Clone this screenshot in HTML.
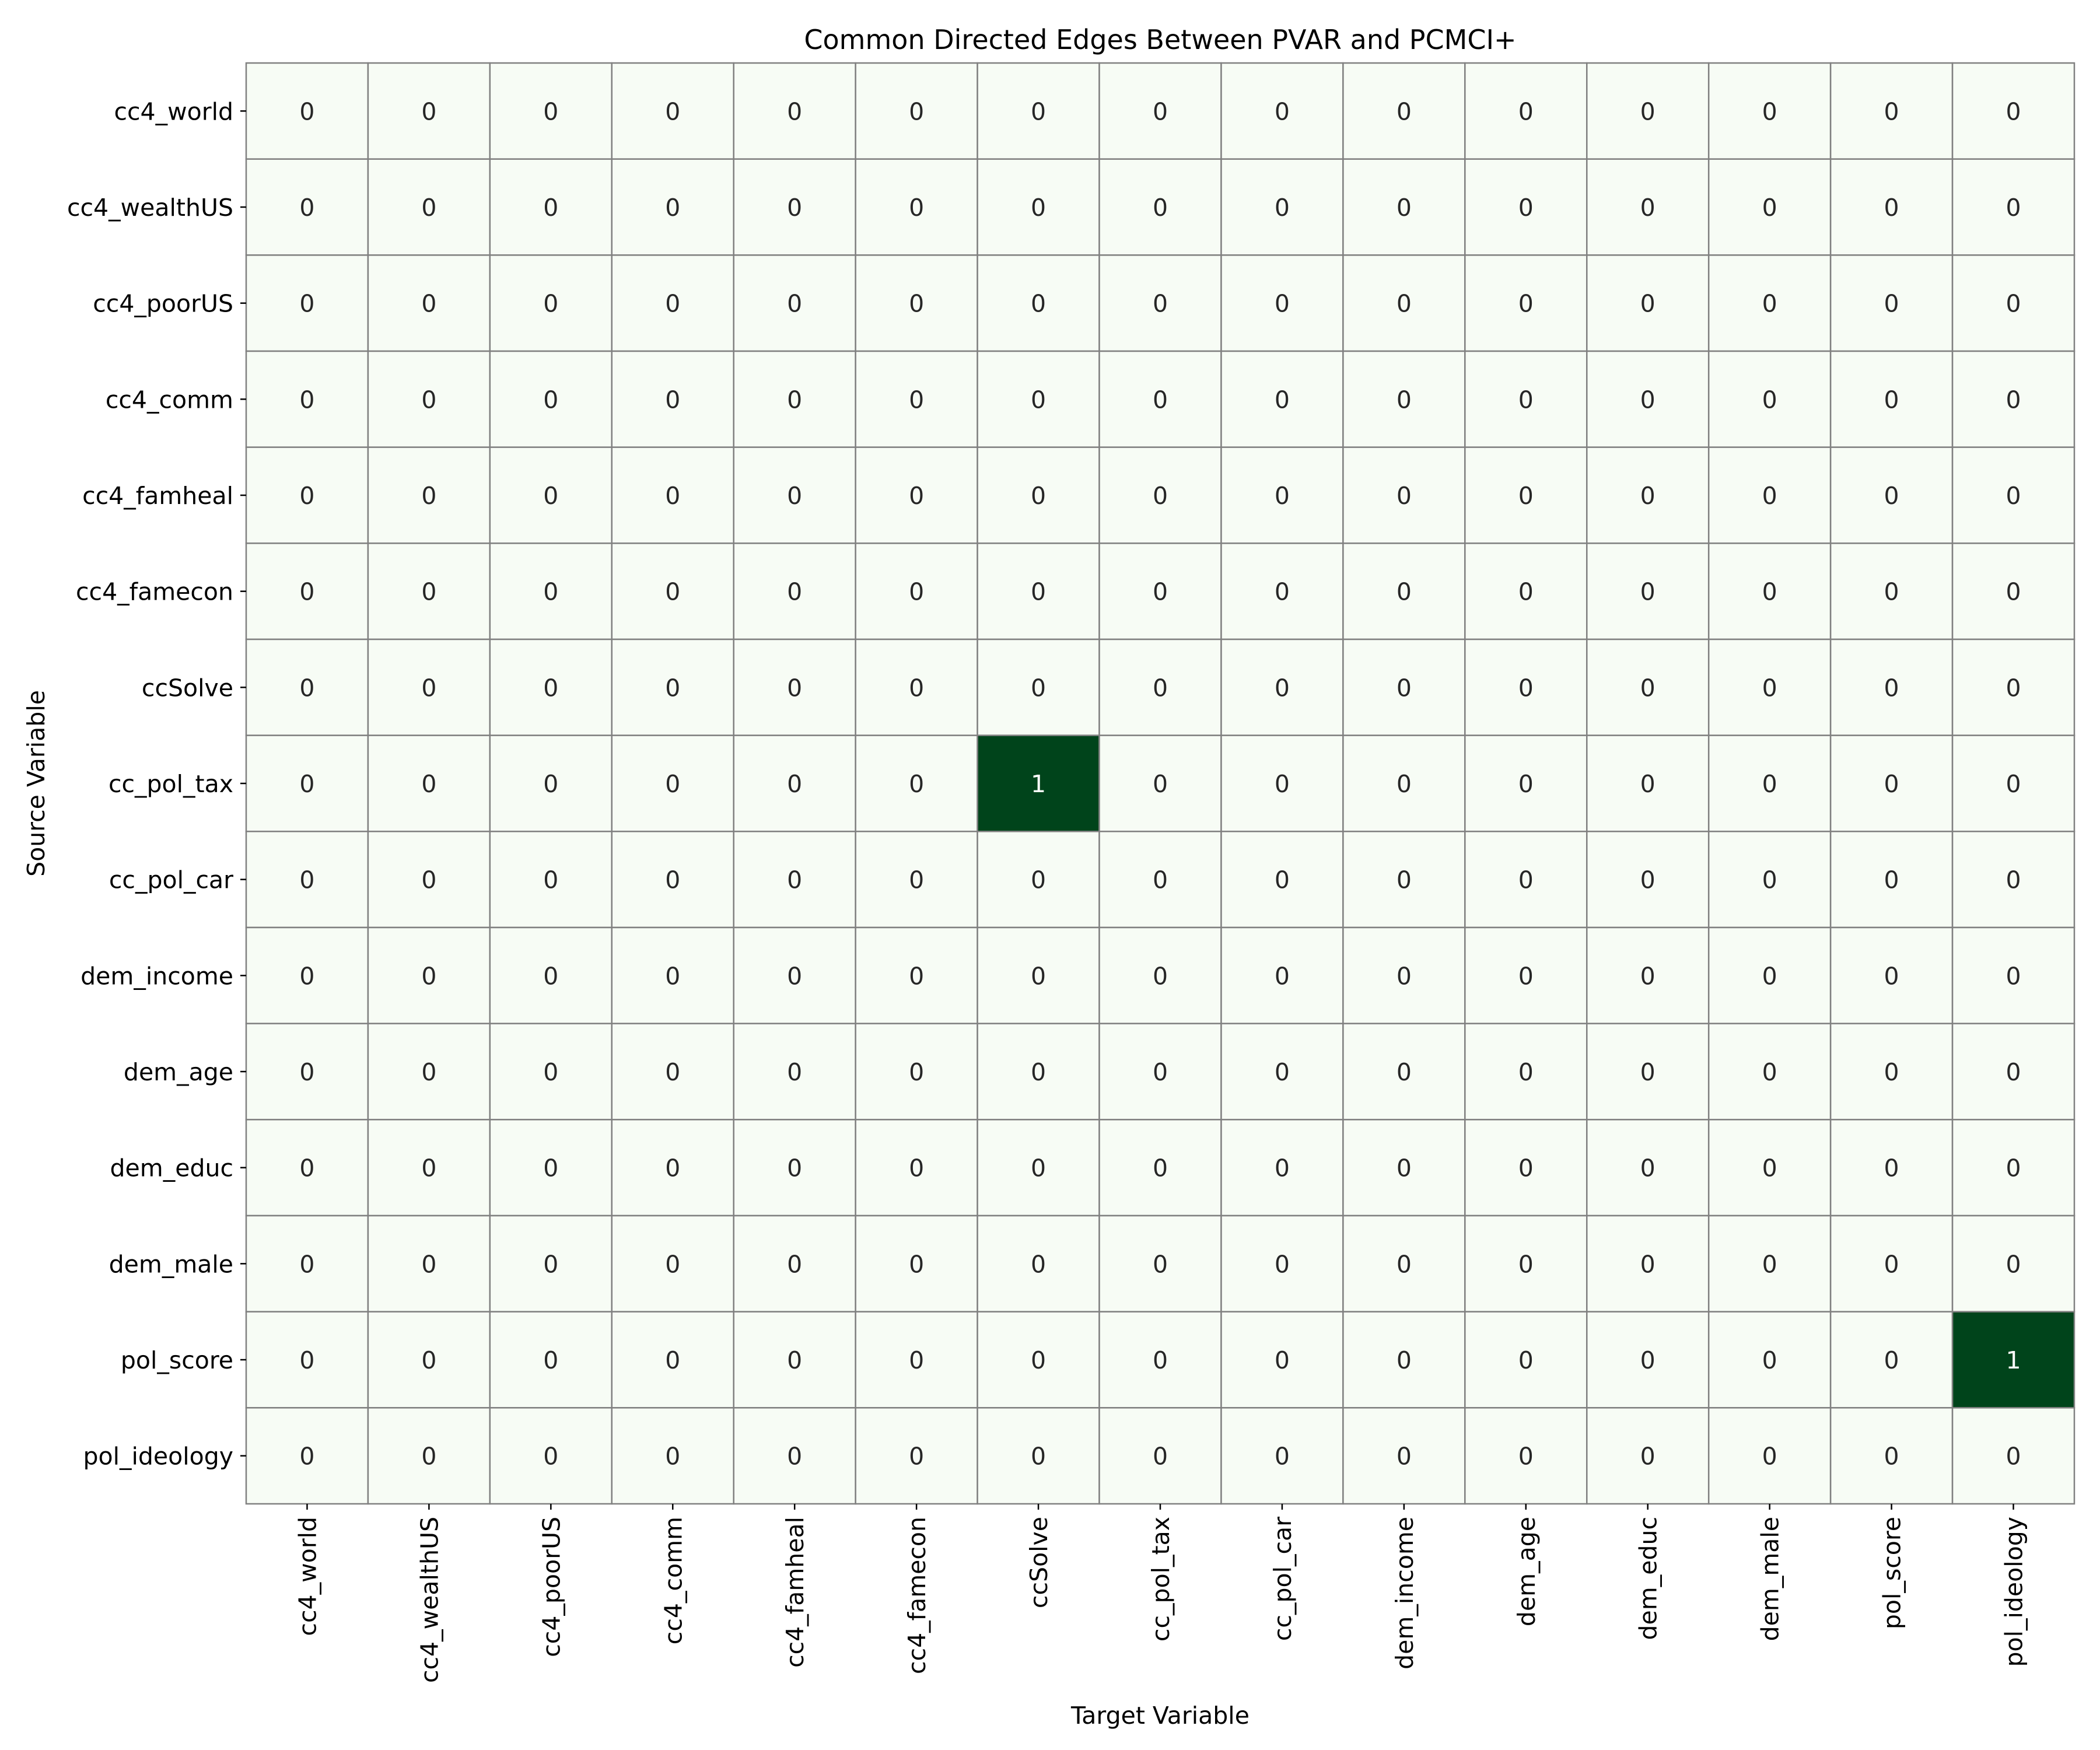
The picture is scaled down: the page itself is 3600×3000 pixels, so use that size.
<!DOCTYPE html>
<html><head><meta charset="utf-8">
<style>
html,body{margin:0;padding:0;background:#fff;}
svg{display:block;font-family:"DejaVu Sans","Liberation Sans",sans-serif;}
</style></head>
<body>
<svg id="chart" width="3600" height="3000" viewBox="0 0 3600 3000" xmlns="http://www.w3.org/2000/svg">
<rect width="3600" height="3000" fill="#fff"/>
<text x="1989" y="84" font-size="46" text-anchor="middle" fill="#000">Common Directed Edges Between PVAR and PCMCI+</text>
<text x="1989" y="2955" font-size="41" text-anchor="middle" fill="#000">Target Variable</text>
<text x="0" y="0" font-size="41" text-anchor="middle" fill="#000" transform="translate(76,1343) rotate(-90)">Source Variable</text>
<g id="cells"></g>
<g id="ticks"></g>
</svg>
<script>
const rowLabels = ["cc4_world","cc4_wealthUS","cc4_poorUS","cc4_comm","cc4_famheal","cc4_famecon","ccSolve","cc_pol_tax","cc_pol_car","dem_income","dem_age","dem_educ","dem_male","pol_score","pol_ideology"];
const colLabels = ["cc4_world","cc4_wealthUS","cc4_poorUS","cc4_comm","cc4_famheal","cc4_famecon","ccSolve","cc_pol_tax","cc_pol_car","dem_income","dem_age","dem_educ","dem_male","pol_score","pol_ideology"];
const edgeSources = ["cc_pol_tax","pol_score"];
const edgeTargets = ["ccSolve","pol_ideology"];
const edgeValues = [1,1];

const NS="http://www.w3.org/2000/svg";
const L=422,R=3556,T=108,B=2578;
const cw=(R-L)/colLabels.length, ch=(B-T)/rowLabels.length;
function xPos(i){return L+i*cw;}
function yPos(i){return T+i*ch;}
const matrix=rowLabels.map(()=>colLabels.map(()=>0));
edgeSources.forEach((s,k)=>{const r=rowLabels.indexOf(s),c=colLabels.indexOf(edgeTargets[k]);if(r>=0&&c>=0)matrix[r][c]=edgeValues[k];});
let vmax=1;matrix.forEach(r=>r.forEach(v=>{if(v>vmax)vmax=v;}));
function color(v){const t=v/vmax;const a=[247,252,245],b=[0,68,27];return `rgb(${a.map((x,i)=>Math.round(x+(b[i]-x)*t)).join(',')})`;}
const cells=document.getElementById('cells'),ticks=document.getElementById('ticks');
for(let r=0;r<rowLabels.length;r++){for(let c=0;c<colLabels.length;c++){
  const v=matrix[r][c];
  const rect=document.createElementNS(NS,'rect');
  rect.setAttribute('x',xPos(c));rect.setAttribute('y',yPos(r));rect.setAttribute('width',cw);rect.setAttribute('height',ch);
  rect.setAttribute('fill',color(v));rect.setAttribute('stroke','#808080');rect.setAttribute('stroke-width','2.5');
  
  
  cells.appendChild(rect);
  const t=document.createElementNS(NS,'text');
  t.setAttribute('x',xPos(c)+cw/2);t.setAttribute('y',yPos(r)+ch/2+15);t.setAttribute('font-size','41');t.setAttribute('text-anchor','middle');
  t.setAttribute('fill',v/vmax>0.5?'#ffffff':'#262626');t.textContent=String(v);
  
  
  cells.appendChild(t);
}}
rowLabels.forEach((lab,i)=>{
  const y=yPos(i)+ch/2;
  const ln=document.createElementNS(NS,'line');ln.setAttribute('x1',L-10);ln.setAttribute('x2',L);ln.setAttribute('y1',y);ln.setAttribute('y2',y);ln.setAttribute('stroke','#000');ln.setAttribute('stroke-width','2.5');
  
  
  ticks.appendChild(ln);
  const t=document.createElementNS(NS,'text');t.setAttribute('x',L-22);t.setAttribute('y',y+15);t.setAttribute('font-size','41');t.setAttribute('text-anchor','end');t.textContent=lab;
  
  
  ticks.appendChild(t);
});
colLabels.forEach((lab,i)=>{
  const x=xPos(i)+cw/2;
  const ln=document.createElementNS(NS,'line');ln.setAttribute('x1',x);ln.setAttribute('x2',x);ln.setAttribute('y1',B);ln.setAttribute('y2',B+10);ln.setAttribute('stroke','#000');ln.setAttribute('stroke-width','2.5');
  
  
  ticks.appendChild(ln);
  const t=document.createElementNS(NS,'text');t.setAttribute('font-size','41');t.setAttribute('text-anchor','end');
  t.setAttribute('transform',`translate(${x+15},${B+22}) rotate(-90)`);t.textContent=lab;
  
  
  ticks.appendChild(t);
});
</script>
</body></html>
